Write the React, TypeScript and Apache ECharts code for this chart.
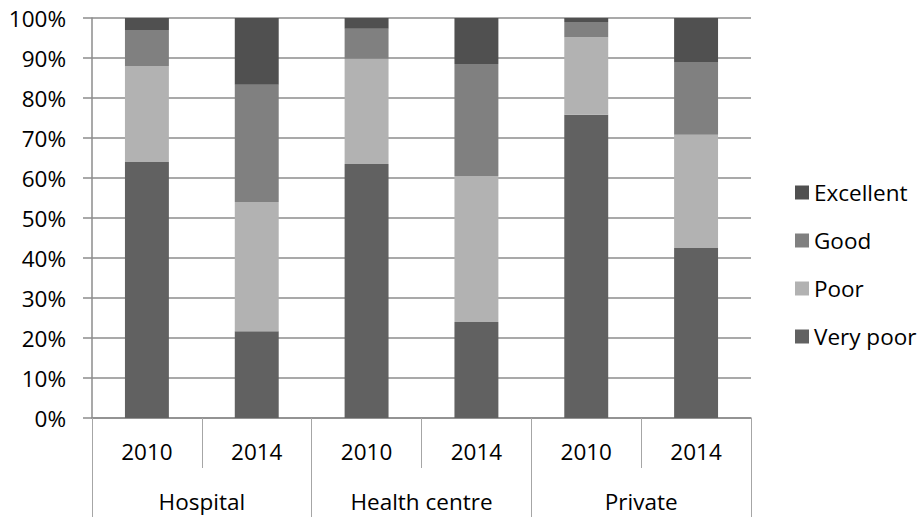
import React, { useEffect, useRef } from "react";
import * as echarts from "echarts";

const years = ["2010", "2014", "2010", "2014", "2010", "2014"];
const groups = ["Hospital", "Health centre", "Private"];
const veryPoor = [64, 21.7, 63.5, 24, 75.8, 42.5];
const poor = [24, 32.3, 26.3, 36.5, 19.4, 28.3];
const good = [9, 29.3, 7.5, 28, 3.8, 18.2];
const excellent = [3, 16.7, 2.7, 11.5, 1, 11];
const legendOrder = ["Excellent", "Good", "Poor", "Very poor"];

const FONT = "'Open Sans', 'Noto Sans', sans-serif";
const FS = 22.5;

export default function App() {
  const ref = useRef<HTMLDivElement>(null);
  useEffect(() => {
    if (!ref.current) return;
    const chart = echarts.init(ref.current, null, { renderer: "svg" });
    const mk = (name: string, data: number[], color: string) => ({
      name,
      type: "bar",
      stack: "total",
      data,
      barWidth: "40%",
      xAxisIndex: 0,
      itemStyle: { color },
    });
    chart.setOption({
      animation: false,
      textStyle: { fontFamily: FONT },
      grid: { left: 92, right: 169, top: 18, bottom: 99, containLabel: false },
      legend: {
        orient: "vertical",
        left: 790,
        top: 176,
        itemWidth: 14,
        itemHeight: 14,
        itemGap: 25,
        icon: "rect",
        data: legendOrder,
        textStyle: { fontFamily: FONT, fontSize: FS, color: "#000", lineHeight: 23 },
      },
      xAxis: [
        {
          type: "category",
          data: years,
          position: "bottom",
          axisLine: { show: true, lineStyle: { color: "#8c8c8c", width: 1.5 } },
          axisTick: { show: true, length: 50, interval: 0, lineStyle: { color: "#a6a6a6", width: 1 } },
          axisLabel: { fontFamily: FONT, fontSize: FS, color: "#000", margin: 22, interval: 0 },
        },
        {
          type: "category",
          data: groups,
          position: "bottom",
          axisLine: { show: false },
          axisTick: { show: true, length: 99, interval: 0, lineStyle: { color: "#a6a6a6", width: 1 } },
          axisLabel: { fontFamily: FONT, fontSize: FS, color: "#000", margin: 72, interval: 0 },
        },
      ],
      yAxis: {
        type: "value",
        min: 0,
        max: 100,
        interval: 10,
        axisLine: { show: true, lineStyle: { color: "#8c8c8c", width: 1.5 } },
        axisTick: { show: true, length: 9, lineStyle: { color: "#8c8c8c", width: 1.5 } },
        axisLabel: { fontFamily: FONT, fontSize: FS, color: "#000", margin: 26, formatter: "{value}%" },
        splitLine: { show: true, lineStyle: { color: "#8c8c8c", width: 1.5 } },
      },
      series: [
        mk("Very poor", veryPoor, "#616161"),
        mk("Poor", poor, "#b2b2b2"),
        mk("Good", good, "#808080"),
        mk("Excellent", excellent, "#505050"),
      ],
    });
    return () => chart.dispose();
  }, []);
  return <div ref={ref} style={{ width: 920, height: 517, position: "absolute", left: 0, top: 0, background: "#fff" }} />;
}
